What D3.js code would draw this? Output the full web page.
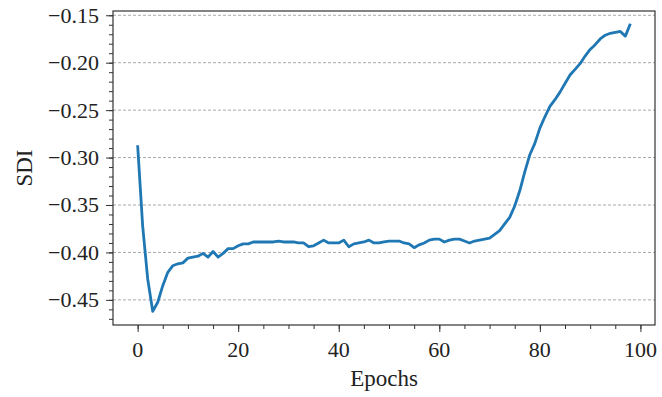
<!DOCTYPE html>
<html>
<head>
<meta charset="utf-8">
<script src="https://cdn.jsdelivr.net/npm/d3@7"></script>
<style>
    html, body { margin: 0; padding: 0; background: #fff; }
    svg text { font-family: "Liberation Serif", "Times New Roman", serif; fill: #222; }
</style>
</head>
<body>
<svg id="chart" width="662" height="397"></svg>
<script>
(function (d3) {
    'use strict';

    // SDI per epoch (epochs 0..98)
    var sdiValues = [
        -0.287, -0.372, -0.428, -0.462, -0.4525, -0.435, -0.421, -0.414, -0.412, -0.411,
        -0.406, -0.405, -0.404, -0.401, -0.405, -0.399, -0.405, -0.401, -0.396, -0.396,
        -0.393, -0.391, -0.391, -0.389, -0.389, -0.389, -0.389, -0.389, -0.388, -0.389,
        -0.389, -0.389, -0.390, -0.390, -0.394, -0.393, -0.390, -0.387, -0.390, -0.390,
        -0.390, -0.387, -0.394, -0.391, -0.390, -0.389, -0.387, -0.390, -0.390, -0.389,
        -0.388, -0.388, -0.388, -0.390, -0.391, -0.395, -0.392, -0.390, -0.387, -0.386,
        -0.386, -0.389, -0.387, -0.386, -0.386, -0.388, -0.390, -0.388, -0.387, -0.386,
        -0.385, -0.381, -0.377, -0.370, -0.363, -0.351, -0.335, -0.315, -0.297, -0.285,
        -0.269, -0.257, -0.246, -0.239, -0.231, -0.222, -0.213, -0.207, -0.201, -0.193,
        -0.186, -0.181, -0.175, -0.171, -0.169, -0.168, -0.167, -0.172, -0.159
    ];
    var epochs = d3.range(sdiValues.length);
    var xTicks = [0, 20, 40, 60, 80, 100];
    var yTicks = [-0.45, -0.40, -0.35, -0.30, -0.25, -0.20, -0.15];
    var xLabel = 'Epochs',
        yLabel = 'SDI';

    var SERIF = '"Liberation Serif", "Times New Roman", serif',
        left = 113, right = 655, top = 11, bottom = 325,
        svg = d3.select('#chart'),
        x = d3.scaleLinear().domain([-4.9, 102.9]).range([left, right]),
        y = d3.scaleLinear().domain([-0.4765, -0.1455]).range([bottom, top]),
        fmt = function (v) { return d3.format('.2f')(v).replace('-', '\u2212'); };

    function serifText(sel, size) {
        return sel.style('font-family', SERIF)
            .style('font-size', size + 'px')
            .style('fill', '#222');
    }

    // dashed horizontal grid
    svg.append('g')
        .selectAll('line')
        .data(yTicks)
        .enter().append('line')
        .attr('x1', left).attr('x2', right)
        .attr('y1', function (d) { return y(d); })
        .attr('y2', function (d) { return y(d); })
        .attr('stroke', '#a8a8a8')
        .attr('stroke-width', 1)
        .attr('stroke-dasharray', '3,2');

    // ticks (marks only, labels drawn below)
    function ticks(axis, values, size, translate) {
        svg.append('g')
            .attr('transform', translate)
            .call(axis.tickValues(values).tickSize(size).tickFormat(''))
            .call(function (g) {
                g.select('.domain').remove();
                g.selectAll('.tick line').attr('stroke', '#333');
                g.selectAll('text').remove();
            });
    }
    ticks(d3.axisBottom(x), d3.range(0, 101, 5), 4, 'translate(0,' + bottom + ')');
    ticks(d3.axisLeft(y), d3.range(-0.47, -0.145, 0.01), 4, 'translate(' + left + ',0)');
    ticks(d3.axisBottom(x), xTicks, 7, 'translate(0,' + bottom + ')');
    ticks(d3.axisLeft(y), yTicks, 7, 'translate(' + left + ',0)');

    // tick labels
    serifText(svg.append('g').selectAll('text')
        .data(xTicks)
        .enter().append('text')
        .attr('x', function (d) { return x(d); })
        .attr('y', 357)
        .attr('text-anchor', 'middle')
        .text(d3.format('d')), 22);
    serifText(svg.append('g').selectAll('text')
        .data(yTicks)
        .enter().append('text')
        .attr('x', left - 14)
        .attr('y', function (d) { return y(d); })
        .attr('dy', '0.34em')
        .attr('text-anchor', 'end')
        .text(fmt), 22);

    // data line
    svg.append('path')
        .datum(epochs)
        .attr('fill', 'none')
        .attr('stroke', '#1f77b4')
        .attr('stroke-width', 2.8)
        .attr('stroke-linejoin', 'round')
        .attr('d', d3.line()
            .x(function (d) { return x(d); })
            .y(function (d) { return y(sdiValues[d]); }));

    // frame
    svg.append('rect')
        .attr('x', left).attr('y', top)
        .attr('width', right - left).attr('height', bottom - top)
        .attr('fill', 'none')
        .attr('stroke', '#333')
        .attr('stroke-width', 1.2);

    // axis labels
    serifText(svg.append('text')
        .attr('x', (left + right) / 2)
        .attr('y', 386)
        .attr('text-anchor', 'middle')
        .text(xLabel), 23);
    serifText(svg.append('text')
        .attr('transform', 'translate(32,' + ((top + bottom) / 2) + ') rotate(-90)')
        .attr('text-anchor', 'middle')
        .text(yLabel), 23);
}(window.d3));
</script>
</body>
</html>
